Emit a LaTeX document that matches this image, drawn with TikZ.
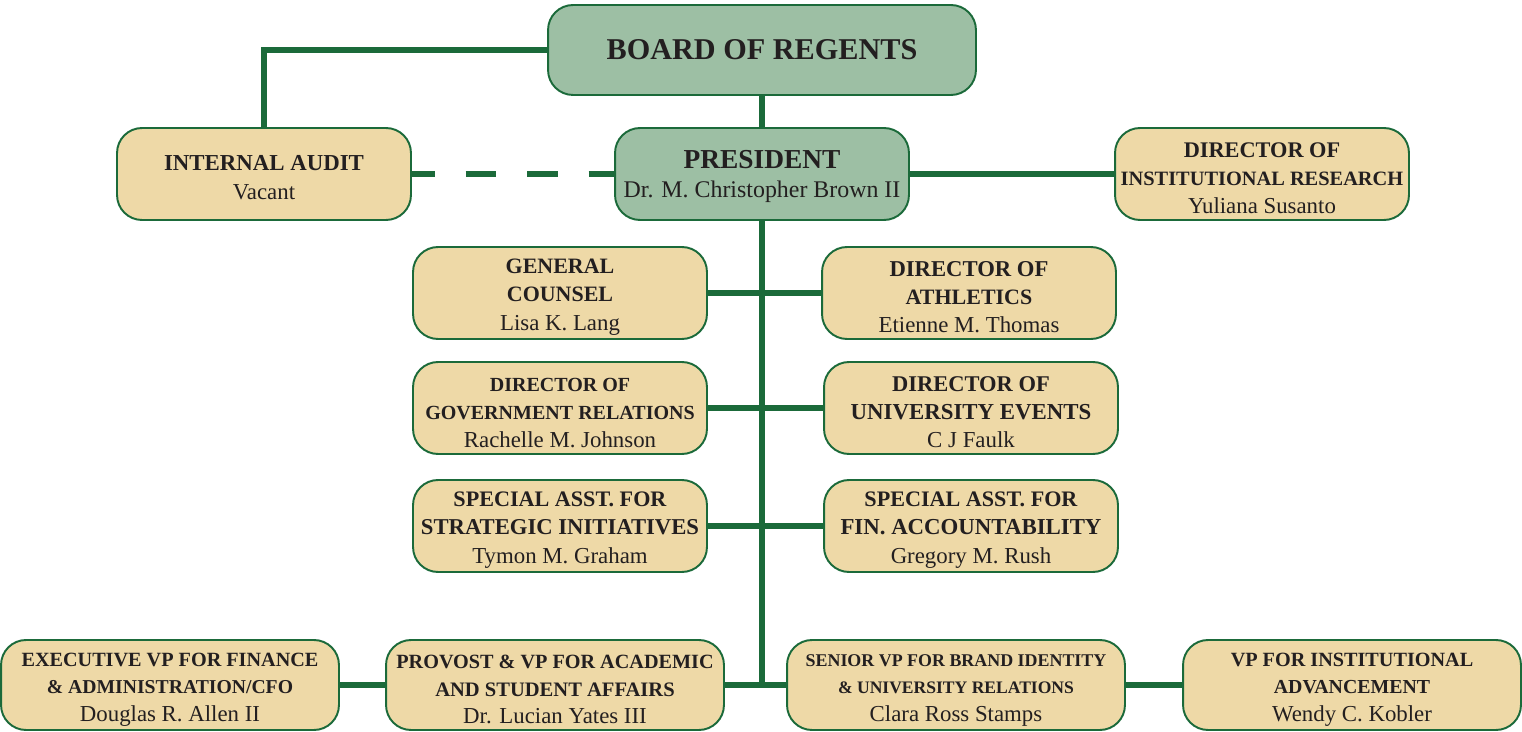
\documentclass[tikz,border=0pt]{standalone}
\usepackage{fontspec}
\setmainfont{Liberation Serif}
\definecolor{regentgreen}{HTML}{1B6A3A}
\definecolor{boardfill}{HTML}{9DBFA4}
\definecolor{officefill}{HTML}{EED9A7}
\definecolor{ink}{HTML}{231F20}
\newcommand{\hdsize}{13}
\newcommand{\hd}[2][\hdsize]{{\fontsize{#1}{16}\selectfont\bfseries\rule{0pt}{13pt}#2}}

\begin{document}
\begin{tikzpicture}[x = .02cm, y = -.02cm, text = ink,
  link/.style = {draw = regentgreen, line width = 3pt},
  office/.style = {draw = regentgreen, line width = 1.1pt, fill = officefill, rounded corners = .5cm, align = center, inner sep = 0pt, minimum width = 5.88cm, minimum height = 1.84cm, font = \fontsize{13}{16}\selectfont},
  boardbox/.style = {office, fill = boardfill, minimum width = 8.56cm, minimum height = 1.8cm},
  vpbox/.style = {office, minimum width = 6.76cm, minimum height = 1.8cm, font = \fontsize{13}{15.6}\selectfont}]
\useasboundingbox (0,0) rectangle (1522,732);
\node[boardbox, font = \fontsize{17.2}{20}\selectfont\bfseries] (board) at (762,50) {BOARD OF REGENTS};
\node[office, fill = boardfill, font = \fontsize{13.6}{16.2}\selectfont] (pres) at (762,174) {\hd[15.6]{PRESIDENT}\\Dr. M. Christopher Brown II};
\node[office, font = \fontsize{13}{16.4}\selectfont] (audit) at (264,174) {\hd{INTERNAL AUDIT}\\Vacant};
\node[office] (research) at (1262,174) {\hd[12.7]{DIRECTOR OF}\\\hd[11.6]{INSTITUTIONAL RESEARCH}\\Yuliana Susanto};
\node[office] (counsel) at (560,293) {\hd[12.5]{GENERAL}\\\hd[12.5]{COUNSEL}\\Lisa K. Lang};
\node[office] (athletics) at (969,293) {\hd[12.9]{DIRECTOR OF}\\\hd[12.5]{ATHLETICS}\\Etienne M. Thomas};
\node[office] (govrel) at (560,408) {\hd[11.4]{DIRECTOR OF}\\\hd[11.4]{GOVERNMENT RELATIONS}\\Rachelle M. Johnson};
\node[office] (events) at (971,408) {\hd[12.8]{DIRECTOR OF}\\\hd{UNIVERSITY EVENTS}\\C J Faulk};
\node[office] (strategy) at (560,526) {\hd[12.6]{SPECIAL ASST. FOR}\\\hd[12.9]{STRATEGIC INITIATIVES}\\Tymon M. Graham};
\node[office] (finance) at (971,526) {\hd[12.6]{SPECIAL ASST. FOR}\\\hd{FIN. ACCOUNTABILITY}\\Gregory M. Rush};
\node[vpbox] (cfo) at (170,685) {\hd[11.5]{EXECUTIVE VP FOR FINANCE}\\\hd[11.2]{\& ADMINISTRATION/CFO}\\Douglas R. Allen II};
\node[vpbox] (provost) at (555,685) {\hd[11.5]{PROVOST \& VP FOR ACADEMIC}\\\hd[11.7]{AND STUDENT AFFAIRS}\\Dr. Lucian Yates III};
\node[vpbox] (brand) at (956,685) {\hd[10.2]{SENIOR VP FOR BRAND IDENTITY}\\\hd[10]{\& UNIVERSITY RELATIONS}\\Clara Ross Stamps};
\node[vpbox] (advance) at (1352,685) {\hd[11.5]{VP FOR INSTITUTIONAL}\\\hd[11.3]{ADVANCEMENT}\\Wendy C. Kobler};
\coordinate (hub) at (762,685);
\draw[link] (board.west) -| (audit.north);
\draw[link] (board.south) -- (pres.north);
\draw[link, dash pattern = on 17.5pt off 17.5pt, dash phase = 4.5pt] (audit.east) -- (pres.west);
\draw[link] (pres.east) -- (research.west);
\draw[link] (pres.south) -- (hub);
\draw[link] (counsel.east) -- (athletics.west);
\draw[link] (govrel.east) -- (events.west);
\draw[link] (strategy.east) -- (finance.west);
\draw[link] (provost.east) -- (hub) -- (brand.west);
\draw[link] (cfo.east) -- (provost.west);
\draw[link] (brand.east) -- (advance.west);
\end{tikzpicture}
\end{document}
